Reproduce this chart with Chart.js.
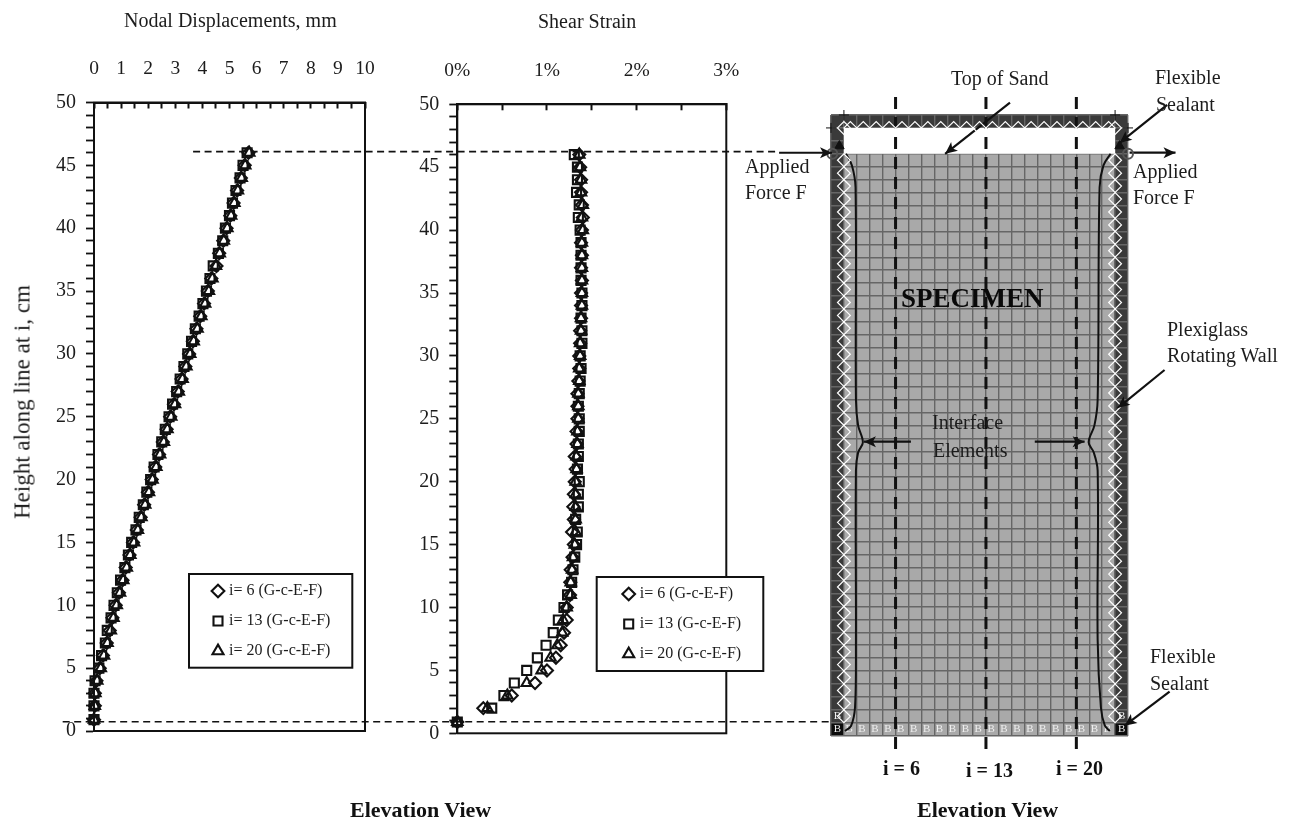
<!DOCTYPE html>
<html>
<head>
<meta charset="utf-8">
<title>Nodal displacements and shear strain</title>
<script src="https://cdn.jsdelivr.net/npm/chart.js@4/dist/chart.umd.min.js"></script>
<style>
  html, body { margin: 0; background: #fff; }
  body { position: relative; width: 1291px; height: 819px; overflow: hidden; }
  canvas { position: absolute; left: 0; top: 0; }
  .t { position: absolute; transform: translateY(-50%); white-space: nowrap; color: #1c1c1c;
       font: 20px "Liberation Serif", serif; line-height: 1; z-index: 5; }
  .b { font-weight: bold; color: #111; }
</style>
</head>
<body>
<canvas id="grafDesl" width="1291" height="819"></canvas>
<canvas id="grafShear" width="1291" height="819"></canvas>
<canvas id="grafMalha" width="1291" height="819"></canvas>

<div class="t" style="left:124px;top:20px">Nodal Displacements, mm</div>
<div class="t" style="left:538px;top:21px">Shear Strain</div>
<div class="t" style="left:22px;top:402px;font-size:23px;transform:translate(-50%,-50%) rotate(-90deg)">Height along line at i, cm</div>
<div class="t b" style="left:350px;top:810px;font-size:22px">Elevation View</div>
<div class="t b" style="left:917px;top:810px;font-size:22px">Elevation View</div>
<div class="t" style="left:951px;top:78px">Top of Sand</div>
<div class="t" style="left:1155px;top:77px">Flexible</div>
<div class="t" style="left:1156px;top:104px">Sealant</div>
<div class="t" style="left:745px;top:166px">Applied</div>
<div class="t" style="left:745px;top:192px">Force F</div>
<div class="t" style="left:1133px;top:171px">Applied</div>
<div class="t" style="left:1133px;top:197px">Force F</div>
<div class="t b" style="left:901px;top:298px;font-size:27px;color:#0a0a0a">SPECIMEN</div>
<div class="t" style="left:1167px;top:329px">Plexiglass</div>
<div class="t" style="left:1167px;top:355px">Rotating Wall</div>
<div class="t" style="left:932px;top:422px">Interface</div>
<div class="t" style="left:933px;top:450px">Elements</div>
<div class="t" style="left:1150px;top:656px">Flexible</div>
<div class="t" style="left:1150px;top:683px">Sealant</div>
<div class="t b" style="left:883px;top:768px">i = 6</div>
<div class="t b" style="left:966px;top:770px">i = 13</div>
<div class="t b" style="left:1056px;top:768px">i = 20</div>

<script>
// Dados
const alturas = [0.9,2,3,4,5,6,7,8,9,10,11,12,13,14,15,16,17,18,19,20,21,22,23,24,25,26,27,28,29,30,31,32,33,34,35,36,37,38,39,40,41,42,43,44,45,46];

const nomesSeries = ["i= 6 (G-c-E-F)", "i= 13 (G-c-E-F)", "i= 20 (G-c-E-F)"];

const desl6 = [0,0.03,0.03,0.09,0.21,0.33,0.47,0.58,0.68,0.80,0.92,1.05,1.17,1.31,1.44,1.58,1.72,1.85,1.99,2.13,2.26,2.40,2.54,2.68,2.81,2.95,3.09,3.23,3.37,3.51,3.65,3.78,3.92,4.06,4.20,4.33,4.52,4.62,4.77,4.89,5.03,5.15,5.28,5.42,5.56,5.70];
const desl13 = [0,0,0,0.04,0.18,0.28,0.42,0.49,0.63,0.74,0.86,0.98,1.14,1.27,1.39,1.55,1.67,1.82,1.95,2.09,2.22,2.36,2.50,2.63,2.77,2.90,3.05,3.18,3.32,3.46,3.60,3.74,3.88,4.02,4.15,4.28,4.40,4.59,4.75,4.85,5.00,5.11,5.24,5.39,5.50,5.65];
const desl20 = [0,0.03,0.05,0.12,0.25,0.37,0.50,0.62,0.72,0.84,0.96,1.08,1.21,1.34,1.48,1.62,1.75,1.89,2.03,2.16,2.30,2.44,2.58,2.71,2.85,2.99,3.13,3.27,3.41,3.55,3.68,3.82,3.96,4.10,4.24,4.37,4.50,4.64,4.79,4.92,5.06,5.18,5.31,5.45,5.58,5.73];

const shear6 = [0,0.29,0.607,0.867,1.0,1.10,1.153,1.19,1.22,1.22,1.257,1.26,1.265,1.285,1.30,1.28,1.30,1.294,1.30,1.31,1.32,1.31,1.33,1.33,1.34,1.34,1.34,1.35,1.36,1.36,1.37,1.37,1.38,1.38,1.38,1.39,1.38,1.39,1.38,1.39,1.40,1.39,1.38,1.38,1.37,1.36];
const shear13 = [0,0.384,0.52,0.636,0.774,0.893,0.99,1.07,1.127,1.19,1.23,1.275,1.29,1.31,1.33,1.338,1.32,1.35,1.35,1.36,1.34,1.35,1.35,1.36,1.36,1.35,1.36,1.37,1.38,1.37,1.39,1.39,1.38,1.39,1.39,1.38,1.38,1.38,1.38,1.37,1.35,1.36,1.33,1.34,1.34,1.305];
const shear20 = [0,0.335,0.558,0.774,0.94,1.04,1.115,1.17,1.18,1.22,1.265,1.265,1.28,1.29,1.31,1.32,1.32,1.32,1.32,1.32,1.33,1.33,1.34,1.34,1.35,1.35,1.35,1.36,1.36,1.37,1.37,1.38,1.38,1.39,1.39,1.39,1.39,1.39,1.39,1.40,1.39,1.40,1.38,1.38,1.37,1.36];

// Malha do especime, em celulas (colunas e linhas)
const colunasMalha = 23;
const linhasMalha = 48;
const colunasI = [5, 12, 19];

// Setas: [x0, y0, x1, y1] em celulas, ponta em x1,y1
const setas = [
  [13.86, 48.96, 8.84, 45.0],
  [26.03, 48.78, 22.35, 45.84],
  [25.83, 28.28, 22.2, 25.34],
  [26.22, 3.4, 22.74, 0.77],
  [6.19, 22.74, 2.55, 22.74],
  [15.78, 22.74, 19.64, 22.74],
  [-4.02, 45.08, 0.08, 45.08],
  [23.12, 45.09, 26.68, 45.09]
];

// Tracejadas que ligam os graficos ao especime
const tracejadas = [
  [-49.4, 45.17, -4.25, 45.17],
  [-59.5, 1.08, 0, 1.08]
];

const chaveEsq = [[1.16,45],[1.62,44.1],[1.9,42.4],[1.93,26],[2.1,24],[2.47,22.7],[2.1,21.9],[1.93,20.5],[1.93,7.4],[1.86,2.2],[1.55,0.75],[1.08,0.36]];
const chaveDir = [[21.65,45],[21.1,44.1],[20.8,42.4],[20.65,26],[20.4,24],[19.95,22.7],[20.35,21.9],[20.65,20.5],[20.65,7.4],[20.9,2.2],[21.2,0.8],[21.6,0.36]];

const FONTE = "'Liberation Serif', serif";
const PRETO = "#111";
Chart.defaults.animation = false;
Chart.defaults.font.family = FONTE;
Chart.defaults.color = "#1c1c1c";

function pontos(valores) {
  return valores.map((v, i) => ({ x: v, y: alturas[i] }));
}

function serie(nome, valores, estilo, raio) {
  return {
    label: nome,
    data: pontos(valores),
    showLine: false,
    clip: false,
    pointStyle: estilo,
    pointRadius: raio,
    pointBorderWidth: 2.1,
    pointBorderColor: PRETO,
    pointBackgroundColor: "rgba(0,0,0,0)"
  };
}

// Moldura do grafico e caixa da legenda
const moldura = {
  id: "moldura",
  afterLayout(chart, args, opts) {
    const leg = chart.legend;
    const c = opts.caixa;
    leg.left = c[0] + opts.recuo;
    leg.right = c[2];
    leg.top = c[1] + opts.topo;
    leg.bottom = c[3] + 60;
  },
  beforeDraw(chart, args, opts) {
    const { ctx, chartArea: a } = chart;
    const c = opts.caixa;
    ctx.save();
    ctx.strokeStyle = PRETO;
    ctx.lineWidth = 2;
    ctx.strokeRect(a.left, a.top, a.right - a.left, a.bottom - a.top);
    ctx.fillStyle = "#fff";
    ctx.fillRect(c[0], c[1], c[2] - c[0], c[3] - c[1]);
    ctx.strokeRect(c[0], c[1], c[2] - c[0], c[3] - c[1]);
    ctx.restore();
  }
};

function criarGrafico(id, s6, s13, s20, area, xMax, rotulo, caixa, topo, recuo) {
  new Chart(document.getElementById(id), {
    type: "scatter",
    data: {
      datasets: [
        serie(nomesSeries[0], s6, "rectRot", 6),
        serie(nomesSeries[1], s13, "rect", 6.4),
        serie(nomesSeries[2], s20, "triangle", 6)
      ]
    },
    options: {
      responsive: false,
      layout: { padding: { right: 1291 - area.right, bottom: 819 - area.bottom } },
      plugins: {
        tooltip: { enabled: false },
        moldura: { caixa: caixa, topo: topo, recuo: recuo },
        legend: {
          position: "chartArea",
          align: "start",
          labels: {
            usePointStyle: true,
            boxWidth: 6,
            boxHeight: 9,
            font: { size: 16, family: FONTE },
            color: "#1c1c1c",
            padding: 14
          }
        }
      },
      scales: {
        x: {
          type: "linear",
          position: "top",
          min: 0,
          max: xMax,
          afterFit: s => { s.height = area.top; },
          border: { color: PRETO, width: 2 },
          grid: { drawOnChartArea: false, tickLength: -6, tickColor: PRETO, tickWidth: 2 },
          ticks: {
            stepSize: 0.5,
            autoSkip: false,
            maxRotation: 0,
            padding: 28,
            font: { size: 19.5, family: FONTE },
            callback: rotulo
          }
        },
        y: {
          type: "linear",
          min: 0,
          max: 50,
          afterFit: s => { s.width = area.left; },
          border: { color: PRETO, width: 2 },
          grid: { drawOnChartArea: false, tickLength: 8, tickColor: PRETO, tickWidth: 1.8 },
          ticks: {
            stepSize: 1,
            autoSkip: false,
            padding: 10,
            font: { size: 20, family: FONTE },
            callback: v => (v % 5 === 0 ? v : "")
          }
        }
      }
    },
    plugins: [moldura]
  });
}

criarGrafico("grafDesl", desl6, desl13, desl20,
  { left: 94, right: 365, top: 102.5, bottom: 731 }, 10,
  v => (Number.isInteger(v) ? v : ""), [189, 574, 352.3, 667.7], -5, 12);

criarGrafico("grafShear", shear6, shear13, shear20,
  { left: 457.3, right: 726.3, top: 104.3, bottom: 733.3 }, 3,
  v => (Number.isInteger(v) ? v + "%" : ""), [596.7, 577, 763.3, 671], -5, 15);

// Pintura do especime: paredes, areia e o vazio acima da areia
const fundoMalha = {
  id: "fundoMalha",
  beforeDraw(chart) {
    const { ctx, scales: { x, y } } = chart;
    const bloco = (x0, y0, x1, y1, cor) => {
      ctx.fillStyle = cor;
      ctx.fillRect(x.getPixelForValue(x0), y.getPixelForValue(y1),
        x.getPixelForValue(x1) - x.getPixelForValue(x0), y.getPixelForValue(y0) - y.getPixelForValue(y1));
    };
    bloco(0, 0, colunasMalha, linhasMalha, "#a9a9a9");
    bloco(0, 0, 1, linhasMalha, "#3a3a3a");
    bloco(22, 0, 23, linhasMalha, "#3a3a3a");
    bloco(0, 47, colunasMalha, linhasMalha, "#3a3a3a");
    bloco(0, 0, 1, 1, "#0c0c0c");
    bloco(22, 0, 23, 1, "#0c0c0c");
  },
  beforeDatasetsDraw(chart) {
    const { ctx, scales: { x, y } } = chart;
    ctx.fillStyle = "#fff";
    ctx.fillRect(x.getPixelForValue(1), y.getPixelForValue(47),
      x.getPixelForValue(22) - x.getPixelForValue(1), y.getPixelForValue(45) - y.getPixelForValue(47));
    // Elementos de base marcados com B
    ctx.fillStyle = "#eeeeee";
    ctx.font = "11px " + FONTE;
    ctx.textAlign = "center";
    ctx.textBaseline = "middle";
    for (let c = 1; c < 22; c++) ctx.fillText("B", x.getPixelForValue(c + 0.4), y.getPixelForValue(0.5));
    [[0.5, 0.5], [0.5, 1.5], [22.5, 0.5], [22.5, 1.5]].forEach(p => {
      ctx.fillText("B", x.getPixelForValue(p[0]), y.getPixelForValue(p[1]));
    });
  },
  afterDatasetsDraw(chart) {
    // Pontas das setas
    const { ctx, scales: { x, y } } = chart;
    ctx.fillStyle = PRETO;
    setas.forEach(s => {
      const px = x.getPixelForValue(s[2]), py = y.getPixelForValue(s[3]);
      const ang = Math.atan2(py - y.getPixelForValue(s[1]), px - x.getPixelForValue(s[0]));
      ctx.save();
      ctx.translate(px, py);
      ctx.rotate(ang);
      ctx.beginPath();
      ctx.moveTo(0, 0);
      ctx.lineTo(-12, -5.5);
      ctx.lineTo(-9, 0);
      ctx.lineTo(-12, 5.5);
      ctx.closePath();
      ctx.fill();
      ctx.restore();
    });
  }
};

function linha(p0, p1, largura, dash) {
  return {
    data: [{ x: p0[0], y: p0[1] }, { x: p1[0], y: p1[1] }],
    showLine: true,
    borderColor: PRETO,
    borderWidth: largura,
    borderDash: dash,
    pointRadius: 0,
    clip: false
  };
}

function chave(pts) {
  return {
    data: pts.map(p => ({ x: p[0], y: p[1] })),
    showLine: true,
    borderColor: PRETO,
    borderWidth: 2,
    tension: 0.35,
    pointRadius: 0,
    clip: false
  };
}

function marcas(pts, estilo, raio, cor, fundo, largura) {
  return {
    data: pts.map(p => ({ x: p[0], y: p[1] })),
    showLine: false,
    pointStyle: estilo,
    pointRadius: raio,
    pointBorderColor: cor,
    pointBackgroundColor: fundo,
    pointBorderWidth: largura,
    clip: false
  };
}

// Elementos de interface: um losango por celula ao longo das paredes e do topo
const interfaceEsq = [], interfaceDir = [], interfaceTopo = [];
for (let j = 1; j < 45; j++) {
  interfaceEsq.push([1, j + 0.5]);
  interfaceDir.push([22, j + 0.5]);
}
for (let c = 1; c < 22; c++) interfaceTopo.push([c + 0.5, 47]);

new Chart(document.getElementById("grafMalha"), {
  type: "scatter",
  data: {
    datasets: [
      marcas(interfaceEsq, "rectRot", 6.4, "#ffffff", "rgba(0,0,0,0)", 1.2),
      marcas(interfaceDir, "rectRot", 6.4, "#ffffff", "rgba(0,0,0,0)", 1.2),
      marcas(interfaceTopo, "rectRot", 6.4, "#ffffff", "rgba(0,0,0,0)", 1.2),
      marcas([[1, 47], [22, 47]], "rectRot", 6.4, "#ffffff", "rgba(0,0,0,0)", 1.2),
      marcas([[1, 48], [0, 47], [22, 48], [23, 47]], "cross", 5, PRETO, PRETO, 1),
      marcas([[0.1, 45], [23, 45]], "circle", 5, "#555", "rgba(0,0,0,0)", 2),
      marcas([[0.65, 45.6], [22.35, 45.6]], "triangle", 5.5, PRETO, PRETO, 1),
      chave(chaveEsq),
      chave(chaveDir),
      ...colunasI.map(c => linha([c, 49.4], [c, -1.34], 3, [12, 8])),
      ...tracejadas.map(t => linha([t[0], t[1]], [t[2], t[3]], 1.6, [7, 4.5])),
      ...setas.map(s => linha([s[0], s[1]], [s[2], s[3]], 2.2))
    ]
  },
  options: {
    responsive: false,
    layout: { padding: { left: 831, top: 115, right: 1291 - 1128, bottom: 819 - 735.7 } },
    plugins: { legend: { display: false }, tooltip: { enabled: false } },
    scales: {
      x: {
        type: "linear",
        min: 0,
        max: colunasMalha,
        border: { display: false },
        grid: { color: "#666666", lineWidth: 1.4, drawTicks: false },
        ticks: { display: false, stepSize: 1 }
      },
      y: {
        type: "linear",
        min: 0,
        max: linhasMalha,
        border: { display: false },
        grid: { color: "#666666", lineWidth: 1.4, drawTicks: false },
        ticks: { display: false, stepSize: 1 }
      }
    }
  },
  plugins: [fundoMalha]
});
</script>
</body>
</html>
